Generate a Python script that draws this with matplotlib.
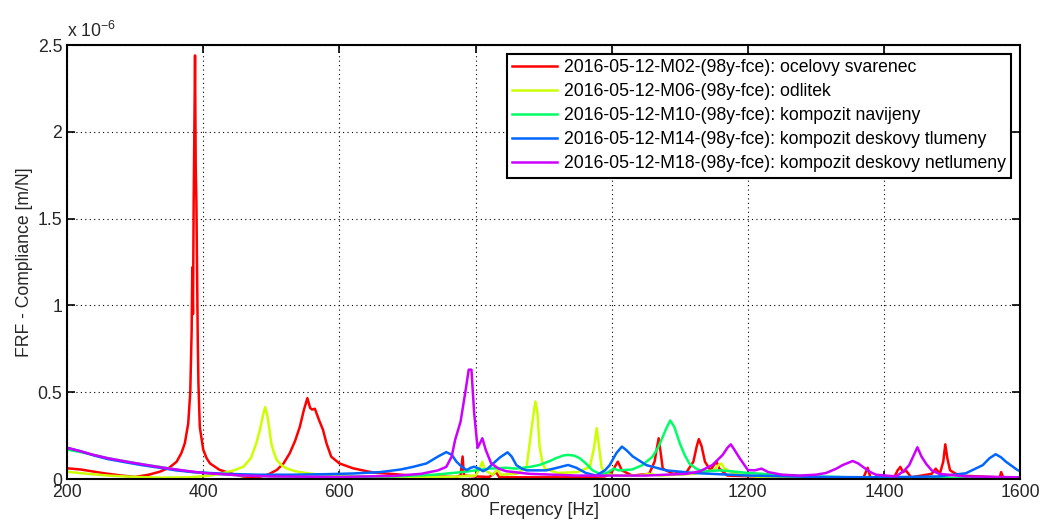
import matplotlib
matplotlib.use("Agg")
import matplotlib.pyplot as plt

plt.rcParams['font.family'] = ['Liberation Sans', 'DejaVu Sans']
plt.rcParams['mathtext.default'] = 'regular'

# FRF compliance, values in 1e-6 m/N
# M02 - ocelovy svarenec
f_m02 = [200, 220, 253, 280, 300, 320, 336, 350, 361, 368, 373, 378, 381, 383, 384, 385,
         386, 387, 388, 389, 390, 391, 392, 393, 395, 400, 405, 410, 424, 439, 458, 478,
         495, 508, 518, 527, 535, 542, 548, 553, 557, 560, 564, 570, 576, 581, 588, 600,
         620, 650, 675, 700, 740, 770, 778, 781, 783, 800, 820, 830, 835, 880, 950, 990,
         1000, 1009, 1015, 1030, 1055, 1063, 1066, 1069, 1072, 1075, 1090, 1110, 1120,
         1125, 1128, 1132, 1137, 1145, 1150, 1154, 1158, 1170, 1250, 1370, 1376, 1380,
         1415, 1420, 1424, 1428, 1432, 1440, 1470, 1476, 1482, 1487, 1490, 1493, 1497,
         1510, 1570, 1572, 1575, 1600]
y_m02 = [0.062, 0.055, 0.034, 0.02, 0.012, 0.025, 0.042, 0.065, 0.10, 0.15, 0.206, 0.32,
         0.5, 0.85, 1.22, 0.95, 1.6, 2.0, 2.44, 1.8, 1.6, 1.2, 0.8, 0.55, 0.30, 0.17, 0.12,
         0.09, 0.053, 0.034, 0.015, 0.008, 0.025, 0.052, 0.09, 0.148, 0.22, 0.302, 0.40,
         0.466, 0.41, 0.40, 0.405, 0.341, 0.283, 0.207, 0.129, 0.09, 0.062, 0.037, 0.03,
         0.022, 0.015, 0.012, 0.02, 0.13, 0.02, 0.015, 0.012, 0.04, 0.01, 0.01, 0.01,
         0.015, 0.04, 0.10, 0.05, 0.02, 0.03, 0.10, 0.17, 0.235, 0.15, 0.06, 0.03, 0.04,
         0.10, 0.19, 0.23, 0.19, 0.10, 0.05, 0.08, 0.10, 0.06, 0.02, 0.01, 0.01, 0.065,
         0.01, 0.01, 0.05, 0.07, 0.04, 0.05, 0.01, 0.03, 0.06, 0.03, 0.10, 0.20, 0.12,
         0.05, 0.02, 0.01, 0.04, 0.01, 0.005]

# M06 - odlitek
f_m06 = [200, 230, 260, 300, 340, 380, 410, 425, 445, 459, 470, 478, 483, 488, 491, 494,
         496, 500, 504, 508, 515, 522, 535, 552, 572, 620, 700, 760, 800, 806, 810, 814,
         825, 830, 833, 837, 860, 875, 882, 886, 888, 891, 894, 898, 902, 920, 950, 968,
         974, 978, 981, 985, 990, 1010, 1040, 1055, 1070, 1120, 1150, 1157, 1161, 1166,
         1180, 1220, 1300, 1600]
y_m06 = [0.042, 0.03, 0.02, 0.012, 0.008, 0.01, 0.02, 0.03, 0.05, 0.071, 0.12, 0.206,
         0.28, 0.37, 0.414, 0.37, 0.32, 0.206, 0.15, 0.11, 0.08, 0.062, 0.045, 0.034,
         0.025, 0.015, 0.01, 0.012, 0.02, 0.06, 0.10, 0.05, 0.025, 0.045, 0.05, 0.025,
         0.03, 0.07, 0.28, 0.40, 0.447, 0.38, 0.19, 0.10, 0.06, 0.035, 0.04, 0.07, 0.18,
         0.293, 0.2, 0.07, 0.03, 0.02, 0.02, 0.03, 0.02, 0.03, 0.05, 0.08, 0.09, 0.06,
         0.03, 0.01, 0.005, 0.003]

# M10 - kompozit navijeny
f_m10 = [200, 220, 238, 260, 288, 310, 336, 360, 385, 420, 460, 520, 600, 680, 740, 780,
         820, 845, 860, 880, 894, 910, 918, 930, 936, 945, 953, 962, 972, 985, 995, 1003,
         1010, 1030, 1045, 1060, 1068, 1073, 1080, 1086, 1092, 1100, 1107, 1114, 1124,
         1134, 1160, 1175, 1200, 1240, 1300, 1350, 1420, 1600]
y_m10 = [0.17, 0.155, 0.14, 0.12, 0.1, 0.085, 0.07, 0.055, 0.04, 0.03, 0.02, 0.015,
         0.012, 0.015, 0.025, 0.04, 0.06, 0.065, 0.06, 0.07, 0.081, 0.105, 0.12, 0.137,
         0.139, 0.135, 0.12, 0.09, 0.05, 0.025, 0.04, 0.06, 0.05, 0.055, 0.08, 0.129,
         0.18, 0.225, 0.29, 0.337, 0.3, 0.206, 0.14, 0.09, 0.06, 0.045, 0.05, 0.045,
         0.035, 0.025, 0.015, 0.01, 0.008, 0.005]

# M14 - kompozit deskovy tlumeny
f_m14 = [200, 220, 240, 260, 288, 310, 336, 360, 385, 433, 480, 530, 580, 620, 660, 690,
         708, 728, 745, 757, 765, 772, 780, 787, 793, 798, 805, 811, 818, 826, 836, 847,
         853, 860, 868, 875, 904, 920, 936, 948, 962, 977, 990, 997, 1007, 1015, 1022,
         1031, 1051, 1080, 1120, 1200, 1300, 1400, 1480, 1520, 1545, 1555, 1564, 1572,
         1579, 1596, 1600]
y_m14 = [0.18, 0.16, 0.135, 0.115, 0.095, 0.08, 0.065, 0.05, 0.04, 0.03, 0.025, 0.025,
         0.028, 0.032, 0.04, 0.055, 0.07, 0.09, 0.13, 0.155, 0.14, 0.10, 0.07, 0.052,
         0.065, 0.071, 0.06, 0.045, 0.06, 0.09, 0.125, 0.154, 0.13, 0.08, 0.06, 0.05,
         0.05, 0.065, 0.081, 0.065, 0.035, 0.02, 0.05, 0.08, 0.15, 0.187, 0.165, 0.13,
         0.08, 0.05, 0.035, 0.02, 0.012, 0.01, 0.015, 0.033, 0.08, 0.12, 0.143, 0.125,
         0.1, 0.052, 0.045]

# M18 - kompozit deskovy netlumeny
f_m18 = [200, 220, 238, 260, 288, 315, 342, 370, 400, 450, 500, 600, 680, 720, 745, 757,
         765, 770, 778, 785, 790, 794, 798, 803, 807, 810, 815, 823, 834, 845, 879, 950,
         1050, 1110, 1130, 1148, 1163, 1170, 1175, 1180, 1188, 1200, 1210, 1220, 1230,
         1250, 1276, 1300, 1315, 1330, 1339, 1354, 1362, 1369, 1380, 1388, 1418, 1430,
         1437, 1444, 1449, 1455, 1462, 1470, 1481, 1520, 1600]
y_m18 = [0.18, 0.16, 0.14, 0.12, 0.1, 0.082, 0.065, 0.05, 0.035, 0.022, 0.015, 0.012,
         0.018, 0.03, 0.05, 0.07, 0.13, 0.225, 0.33, 0.5, 0.63, 0.63, 0.38, 0.18, 0.21,
         0.235, 0.168, 0.09, 0.06, 0.045, 0.03, 0.02, 0.02, 0.03, 0.045, 0.081, 0.139,
         0.18, 0.2, 0.17, 0.12, 0.052, 0.05, 0.06, 0.04, 0.025, 0.02, 0.025, 0.035, 0.06,
         0.08, 0.104, 0.09, 0.07, 0.04, 0.025, 0.015, 0.05, 0.08, 0.14, 0.183, 0.13,
         0.087, 0.05, 0.03, 0.015, 0.01]

labels = ['2016-05-12-M02-(98y-fce): ocelovy svarenec',
          '2016-05-12-M06-(98y-fce): odlitek',
          '2016-05-12-M10-(98y-fce): kompozit navijeny',
          '2016-05-12-M14-(98y-fce): kompozit deskovy tlumeny',
          '2016-05-12-M18-(98y-fce): kompozit deskovy netlumeny']
# hsv(5) like matlab
colors = [(1, 0, 0), (0.8, 1, 0), (0, 1, 0.4), (0, 0.4, 1), (0.8, 0, 1)]

fig = plt.figure(figsize=(10.41, 5.27), dpi=100)
ax = fig.add_axes([0.0644, 0.091, 0.9156, 0.8236])

series = [(f_m02, y_m02), (f_m06, y_m06), (f_m10, y_m10), (f_m14, y_m14), (f_m18, y_m18)]
for (f, y), lab, c in zip(series, labels, colors):
    ax.plot(f, y, color=c, lw=1.8, label=lab)

ax.set_xlim(200, 1600)
ax.set_ylim(0, 2.5)
ax.set_xticks(range(200, 1601, 200))
ax.set_yticks([0, 0.5, 1, 1.5, 2, 2.5])
ax.set_yticklabels(['0', '0.5', '1', '1.5', '2', '2.5'])
ax.grid(True, color='black', linestyle=(0, (1, 3)), linewidth=0.8)
ax.tick_params(direction='in', length=6, width=1.2, labelsize=12.7, colors='black',
               top=True, right=True, labelcolor='#262626')
for s in ax.spines.values():
    s.set_linewidth(1.5)

ax.set_xlabel('Freqency [Hz]', fontsize=12.7, color='#262626', labelpad=1)
ax.set_ylabel('FRF - Compliance [m/N]', fontsize=12.7, color='#262626', labelpad=3)
ax.text(0.0, 1.01, r'x 10$^{-6}$', transform=ax.transAxes, fontsize=12.7,
        color='#262626', ha='left', va='bottom')

leg = ax.legend(loc='upper right', fontsize=12.7, frameon=True, fancybox=False,
                handlelength=2.55, labelspacing=0.4, borderpad=0.3, handletextpad=0.4,
                borderaxespad=0.5)
leg.get_frame().set_edgecolor('black')
leg.get_frame().set_linewidth(1.5)
leg.get_frame().set_alpha(1)

fig.savefig('out.png', dpi=100)
